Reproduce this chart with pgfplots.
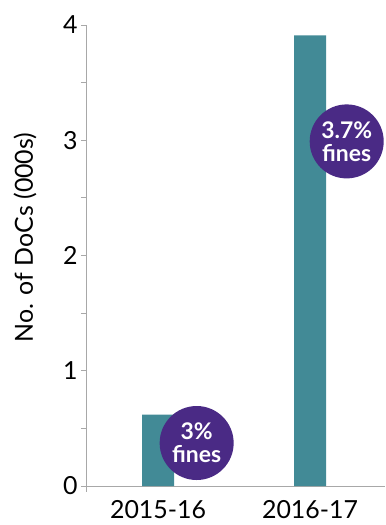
\documentclass[border=0pt]{standalone}
\usepackage{pgfplots}
\pgfplotsset{compat=1.18}
\usepackage{fontspec}
\setmainfont{Lato}
\definecolor{barteal}{HTML}{428A96}
\definecolor{circpurple}{HTML}{4A2A85}
\definecolor{axgrey}{HTML}{A8A8A8}
\begin{document}
\begin{tikzpicture}
\begin{axis}[
  at={(0,0)}, anchor=south west,
  scale only axis,
  width=299bp, height=461bp,
  xmin=-0.474, xmax=1.493,
  ymin=0, ymax=4,
  axis lines=left,
  axis line style={axgrey, line width=0.8pt, -},
  xtick=data,
  xticklabels={2015-16,2016-17},
  x tick style={draw=none},
  xticklabel style={yshift=-6bp},
  ytick={0,1,2,3,4},
  minor y tick num=1,
  y tick style={axgrey, line width=0.8pt},
  tick align=outside,
  major tick length=5bp, minor tick length=5bp,
  ticklabel style={font=\fontsize{25}{28}\selectfont},
  /pgf/number format/assume math mode=true,
  ylabel={No. of DoCs (000s)},
  every axis y label/.style={at={(axis description cs:-0.204,0.539)}, rotate=90, anchor=center},
  ylabel style={font=\fontsize{25}{28}\selectfont},
  ybar, bar width=32bp,
  clip=false,
]
\addplot[fill=barteal, draw=none] coordinates {(0,0.62) (1,3.91)};
\draw[axgrey, line width=0.8pt] (rel axis cs:0,0) -- ++(0pt,-6bp);
\node[circle, fill=circpurple, minimum size=74bp, inner sep=0pt, text=white, align=center,
  font=\fontsize{23}{23}\selectfont\bfseries] at (axis cs:0.254,0.373) {3\%\\fines};
\node[circle, fill=circpurple, minimum size=74bp, inner sep=0pt, text=white, align=center,
  font=\fontsize{23}{23}\selectfont\bfseries] at (axis cs:1.241,2.99) {3.7\%\\fines};
\end{axis}
\pgfresetboundingbox
\path[use as bounding box] (-86bp,-39bp) rectangle (300bp,486bp);
\end{tikzpicture}
\end{document}
